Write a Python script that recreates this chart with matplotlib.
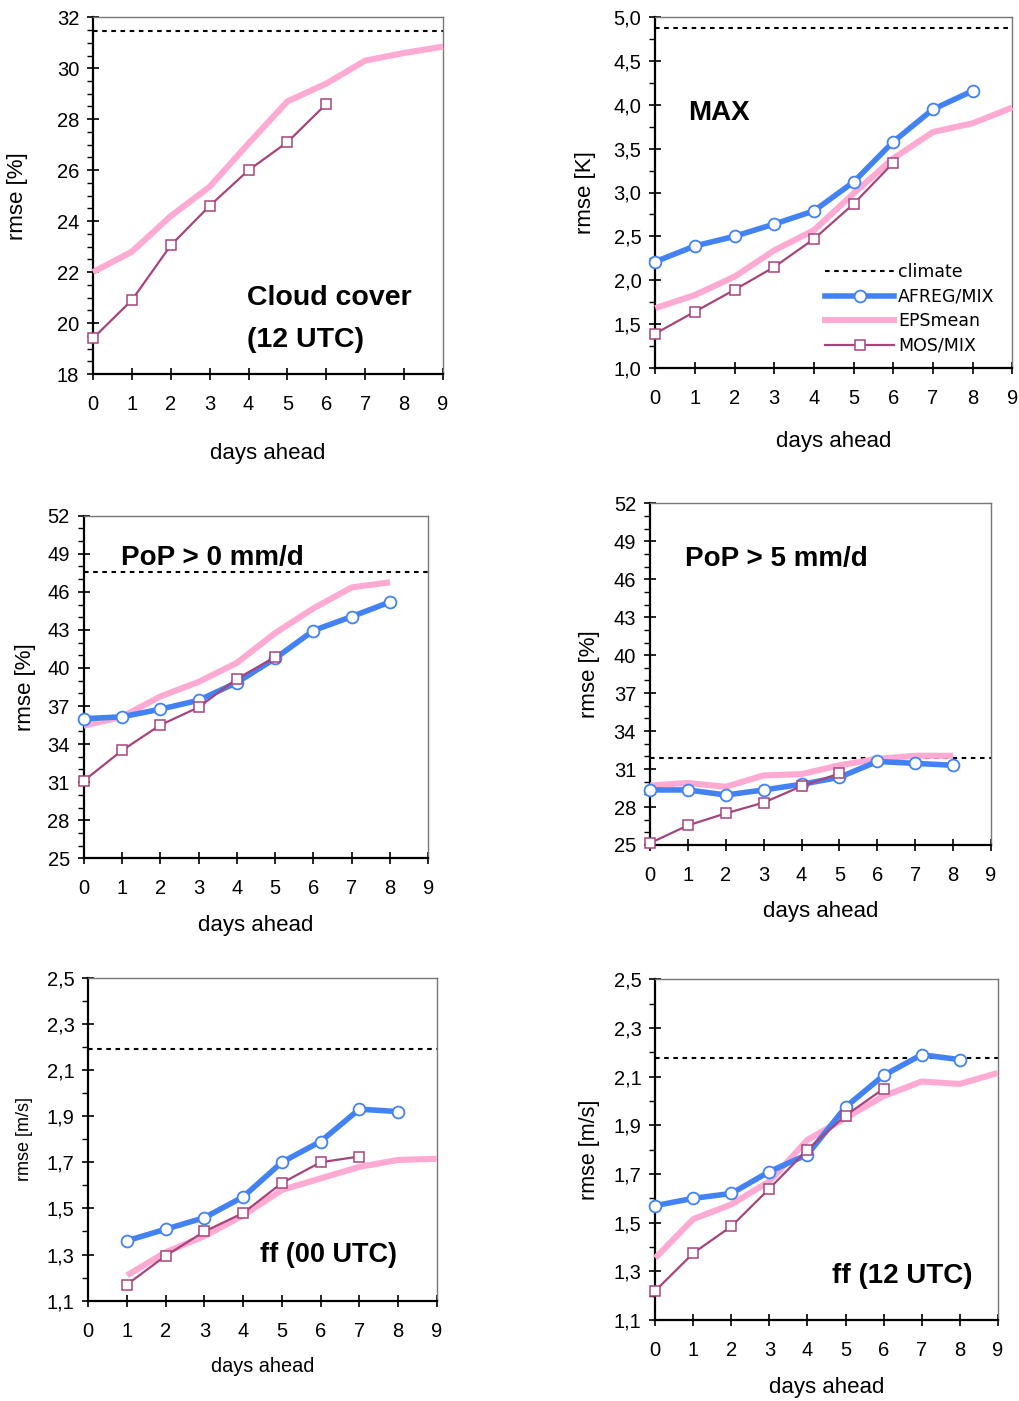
import matplotlib
matplotlib.use('Agg')
import matplotlib.pyplot as plt
from matplotlib.ticker import FuncFormatter
from matplotlib.lines import Line2D

plt.rcParams['font.family'] = ['Liberation Sans', 'DejaVu Sans']

# ---- data ----
# cloud cover (12 UTC)
cc_eps_days = [0, 1, 2, 3, 4, 5, 6, 7, 8, 9]
cc_eps = [22.0, 22.8, 24.2, 25.35, 27.05, 28.7, 29.4, 30.3, 30.6, 30.85]
cc_mos_days = [0, 1, 2, 3, 4, 5, 6]
cc_mos = [19.4, 20.9, 23.05, 24.6, 26.0, 27.1, 28.6]
cc_climate = 31.46
cc_yticks = [18, 20, 22, 24, 26, 28, 30, 32]

# MAX temperature
max_afreg_days = [0, 1, 2, 3, 4, 5, 6, 7, 8]
max_afreg = [2.21, 2.39, 2.50, 2.64, 2.79, 3.12, 3.58, 3.95, 4.16]
max_eps_days = [0, 1, 2, 3, 4, 5, 6, 7, 8, 9]
max_eps = [1.68, 1.83, 2.04, 2.34, 2.57, 2.99, 3.39, 3.69, 3.79, 3.97]
max_mos_days = [0, 1, 2, 3, 4, 5, 6]
max_mos = [1.39, 1.64, 1.89, 2.15, 2.47, 2.87, 3.34]
max_climate = 4.88
max_yticks = [1.0, 1.5, 2.0, 2.5, 3.0, 3.5, 4.0, 4.5, 5.0]

# PoP > 0 mm/d
pop0_afreg_days = [0, 1, 2, 3, 4, 5, 6, 7, 8]
pop0_afreg = [36.0, 36.15, 36.75, 37.45, 38.85, 40.75, 42.95, 44.05, 45.2]
pop0_eps_days = [0, 1, 2, 3, 4, 5, 6, 7, 8]
pop0_eps = [35.45, 36.15, 37.75, 38.9, 40.4, 42.75, 44.7, 46.35, 46.75]
pop0_mos_days = [0, 1, 2, 3, 4, 5]
pop0_mos = [31.1, 33.5, 35.5, 36.9, 39.15, 40.85]
pop0_climate = 47.6

# PoP > 5 mm/d
pop5_afreg_days = [0, 1, 2, 3, 4, 5, 6, 7, 8]
pop5_afreg = [29.35, 29.35, 28.95, 29.35, 29.8, 30.35, 31.6, 31.45, 31.3]
pop5_eps_days = [0, 1, 2, 3, 4, 5, 6, 7, 8]
pop5_eps = [29.7, 29.9, 29.6, 30.5, 30.6, 31.3, 31.8, 32.05, 32.05]
pop5_mos_days = [0, 1, 2, 3, 4, 5]
pop5_mos = [25.15, 26.55, 27.5, 28.35, 29.65, 30.65]
pop5_climate = 31.85
pop_yticks = [25, 28, 31, 34, 37, 40, 43, 46, 49, 52]

# ff (00 UTC)
ff00_afreg_days = [1, 2, 3, 4, 5, 6, 7, 8]
ff00_afreg = [1.36, 1.41, 1.46, 1.55, 1.70, 1.79, 1.93, 1.92]
ff00_eps_days = [1, 2, 3, 4, 5, 6, 7, 8, 9]
ff00_eps = [1.21, 1.31, 1.38, 1.47, 1.58, 1.63, 1.68, 1.71, 1.715]
ff00_mos_days = [1, 2, 3, 4, 5, 6, 7]
ff00_mos = [1.17, 1.295, 1.40, 1.48, 1.61, 1.70, 1.725]
ff00_climate = 2.19

# ff (12 UTC)
ff12_afreg_days = [0, 1, 2, 3, 4, 5, 6, 7, 8]
ff12_afreg = [1.57, 1.60, 1.62, 1.71, 1.78, 1.975, 2.105, 2.19, 2.17]
ff12_eps_days = [0, 1, 2, 3, 4, 5, 6, 7, 8, 9]
ff12_eps = [1.355, 1.515, 1.575, 1.67, 1.84, 1.93, 2.02, 2.08, 2.07, 2.115]
ff12_mos_days = [0, 1, 2, 3, 4, 5, 6]
ff12_mos = [1.22, 1.375, 1.485, 1.64, 1.80, 1.94, 2.05]
ff12_climate = 2.178
ff_yticks = [1.1, 1.3, 1.5, 1.7, 1.9, 2.1, 2.3, 2.5]

x_ticks = [0, 1, 2, 3, 4, 5, 6, 7, 8, 9]

BLUE = '#4282f5'
PINK = '#ffaad2'
MOS_C = '#a8447a'

W, H = 1019, 1401
fig = plt.figure(figsize=(W / 100, H / 100), dpi=100)


def box(l, t, r, b):
    return [l / W, 1 - b / H, (r - l) / W, (b - t) / H]


def comma(v, pos):
    return '{:.1f}'.format(v).replace('.', ',')


def make_panel(rect, yticks, n_minor, ylabel, decimals,
               xlabel_y, ylabel_x, xlabel_size=16, ylabel_size=16):
    ax = fig.add_axes(box(*rect))
    ax.set_xlim(0, 9)
    ax.set_ylim(yticks[0], yticks[-1])
    ax.set_xticks(x_ticks)
    ax.set_yticks(yticks)
    step = (yticks[1] - yticks[0]) / (n_minor + 1)
    minor = [yticks[0] + step * k for k in range((len(yticks) - 1) * (n_minor + 1))
             if k % (n_minor + 1)]
    ax.set_yticks(minor, minor=True)
    if decimals:
        ax.yaxis.set_major_formatter(FuncFormatter(comma))
    for side in ('left', 'bottom'):
        ax.spines[side].set_color('black')
        ax.spines[side].set_linewidth(1.6)
    for side in ('top', 'right'):
        ax.spines[side].set_color('#777777')
        ax.spines[side].set_linewidth(1.0)
    ax.tick_params(axis='both', which='major', direction='inout', length=8,
                   width=1.2, labelsize=14.5, pad=6)
    ax.tick_params(axis='x', which='major', pad=11)
    ax.tick_params(axis='y', which='minor', direction='out', length=4, width=1.0)
    # label positions in pixels
    l, t, r, b = rect
    ax.set_xlabel('days ahead', fontsize=xlabel_size, va='center')
    ax.xaxis.set_label_coords(0.5, (b - xlabel_y) / (b - t))
    ax.set_ylabel(ylabel, fontsize=ylabel_size, va='center')
    ax.yaxis.set_label_coords((ylabel_x - l) / (r - l), 0.5)
    return ax


def draw(ax, climate, eps_x, eps_y, mos_x, mos_y, afreg_x=None, afreg_y=None):
    ax.axhline(climate, color='black', lw=1.5, ls=(0, (2.2, 2.2)), zorder=2)
    ax.plot(eps_x, eps_y, color=PINK, lw=4.4, zorder=3, clip_on=False,
            solid_capstyle='butt')
    if afreg_x is not None:
        ax.plot(afreg_x, afreg_y, color=BLUE, lw=4.0, marker='o', ms=8.5,
                mfc='white', mec=BLUE, mew=1.3, zorder=4, clip_on=False)
    ax.plot(mos_x, mos_y, color=MOS_C, lw=1.6, marker='s', ms=7,
            mfc='white', mec=MOS_C, mew=1.1, zorder=5, clip_on=False)


# panel 1: cloud cover
ax1 = make_panel((93, 17.3, 443, 374), cc_yticks, 3, 'rmse [%]', False, 454, 18)
draw(ax1, cc_climate, cc_eps_days, cc_eps, cc_mos_days, cc_mos)
fig.text(247 / W, 1 - 305 / H, 'Cloud cover', fontsize=20.5, fontweight='bold', va='baseline')
fig.text(247 / W, 1 - 347 / H, '(12 UTC)', fontsize=20.5, fontweight='bold', va='baseline')

# panel 2: MAX
ax2 = make_panel((655.3, 17.3, 1012.3, 367.7), max_yticks, 1, 'rmse [K]', True, 441, 585)
draw(ax2, max_climate, max_eps_days, max_eps, max_mos_days, max_mos,
     max_afreg_days, max_afreg)
fig.text(688 / W, 1 - 120 / H, 'MAX', fontsize=20, fontweight='bold', va='baseline')
handles = [
    Line2D([], [], color='black', lw=1.5, ls=(0, (2.2, 2.2))),
    Line2D([], [], color=BLUE, lw=4.0, marker='o', ms=8.5, mfc='white', mec=BLUE, mew=1.3),
    Line2D([], [], color=PINK, lw=4.4),
    Line2D([], [], color=MOS_C, lw=1.6, marker='s', ms=7, mfc='white', mec=MOS_C, mew=1.1),
]
ax2.legend(handles, ['climate', 'AFREG/MIX', 'EPSmean', 'MOS/MIX'],
           loc='upper left', bbox_to_anchor=(825 / W, 1 - 263 / H),
           bbox_transform=fig.transFigure, frameon=False, borderpad=0,
           borderaxespad=0, handlelength=4.0, handletextpad=0.22,
           labelspacing=0.38, prop={'family': 'DejaVu Sans', 'size': 12.5})

# panel 3: PoP > 0
ax3 = make_panel((83.7, 515.7, 428.3, 858.3), pop_yticks, 2, 'rmse [%]', False, 925, 25)
draw(ax3, pop0_climate, pop0_eps_days, pop0_eps, pop0_mos_days, pop0_mos,
     pop0_afreg_days, pop0_afreg)
fig.text(120.7 / W, 1 - 565 / H, 'PoP > 0 mm/d', fontsize=20, fontweight='bold', va='baseline')

# panel 4: PoP > 5
ax4 = make_panel((650, 503.3, 991, 845), pop_yticks, 2, 'rmse [%]', False, 912, 590)
draw(ax4, pop5_climate, pop5_eps_days, pop5_eps, pop5_mos_days, pop5_mos,
     pop5_afreg_days, pop5_afreg)
fig.text(685.3 / W, 1 - 566 / H, 'PoP > 5 mm/d', fontsize=20, fontweight='bold', va='baseline')

# panel 5: ff 00 UTC
ax5 = make_panel((88.3, 977.7, 436.7, 1300.7), ff_yticks, 1, 'rmse [m/s]', True, 1366, 24,
                 xlabel_size=14.3, ylabel_size=13)
draw(ax5, ff00_climate, ff00_eps_days, ff00_eps, ff00_mos_days, ff00_mos,
     ff00_afreg_days, ff00_afreg)
fig.text(260 / W, 1 - 1261.7 / H, 'ff (00 UTC)', fontsize=19.5, fontweight='bold', va='baseline')

# panel 6: ff 12 UTC
ax6 = make_panel((655.3, 979.3, 997.7, 1320), ff_yticks, 1, 'rmse [m/s]', True, 1387, 590,
                 ylabel_size=15.5)
draw(ax6, ff12_climate, ff12_eps_days, ff12_eps, ff12_mos_days, ff12_mos,
     ff12_afreg_days, ff12_afreg)
fig.text(831.7 / W, 1 - 1283.3 / H, 'ff (12 UTC)', fontsize=20, fontweight='bold', va='baseline')

fig.savefig('out.png', dpi=100)
